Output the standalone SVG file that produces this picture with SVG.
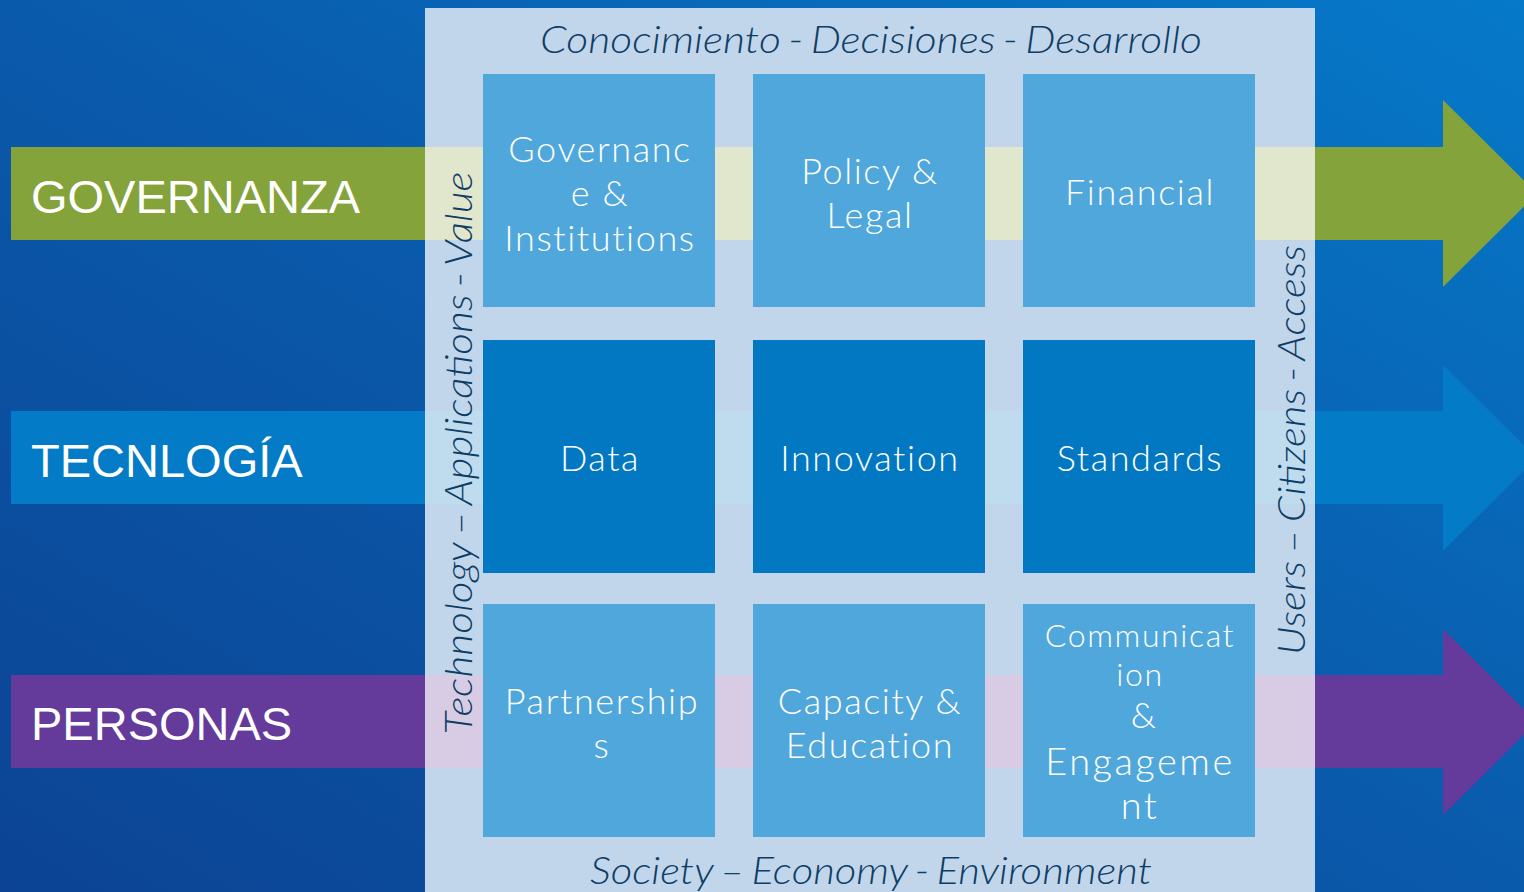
<svg xmlns="http://www.w3.org/2000/svg" width="1524" height="892" viewBox="0 0 1524 892">
<defs>
<linearGradient id="bg" x1="0" y1="1" x2="1" y2="0">
<stop offset="0" stop-color="#0c4394"/>
<stop offset="0.5" stop-color="#0a5aab"/>
<stop offset="1" stop-color="#0679c9"/>
</linearGradient>
<style>
.box1{fill:#50a7db}
.box2{fill:#0278c2}
.bt{font-family:Lato,"Open Sans",sans-serif;font-weight:300;font-size:36px;fill:#ffffff;text-anchor:middle;letter-spacing:1.6px}
.lab{font-family:"Liberation Sans",Arial,sans-serif;font-size:47px;fill:#ffffff}
.it{font-family:Lato,"Open Sans",sans-serif;font-style:italic;font-weight:300;font-size:37px;fill:#0e3d66;text-anchor:middle;word-spacing:-3px}
</style>
</defs>
<rect x="0" y="0" width="1524" height="892" fill="url(#bg)"/>
<g id="bands">
<polygon points="11,147 1443,147 1443,100 1537,193.5 1443,287 1443,240 11,240" fill="#84a33a"/>
<polygon points="11,411 1443,411 1443,365 1537,458 1443,551 1443,504 11,504" fill="#037bc6"/>
<polygon points="11,675 1443,675 1443,629 1537,722 1443,815 1443,768 11,768" fill="#643a9a"/>
</g>
<g id="panel">
<rect x="425" y="8" width="890" height="884" fill="#c1d6eb"/>
<rect x="425" y="147" width="890" height="93" fill="#e1e7cd"/>
<rect x="425" y="411" width="890" height="93" fill="#bfdcef"/>
<rect x="425" y="675" width="890" height="93" fill="#d8cce4"/>
</g>
<g id="labels">
<text class="lab" x="31" y="213">GOVERNANZA</text>
<text class="lab" x="31" y="477">TECNLOGÍA</text>
<text class="lab" x="31" y="740">PERSONAS</text>
</g>
<g id="axis-labels">
<text class="it" x="871" y="53" textLength="662" lengthAdjust="spacingAndGlyphs">Conocimiento - Decisiones - Desarrollo</text>
<text class="it" x="871" y="884" textLength="562" lengthAdjust="spacingAndGlyphs">Society – Economy - Environment</text>
<text class="it" transform="translate(472,453) rotate(-90)" x="0" y="0" textLength="563" lengthAdjust="spacingAndGlyphs">Technology – Applications - Value</text>
<text class="it" transform="translate(1305,450) rotate(-90)" x="0" y="0" textLength="410" lengthAdjust="spacingAndGlyphs">Users – Citizens - Access</text>
</g>
<g id="governance">
<rect class="box1" x="483" y="74" width="232" height="233"/>
<text class="bt" x="600" y="162">Governanc</text>
<text class="bt" x="600" y="206">e &amp;</text>
<text class="bt" x="600" y="251">Institutions</text>
</g>
<g id="policy">
<rect class="box1" x="753" y="74" width="232" height="233"/>
<text class="bt" x="870" y="184">Policy &amp;</text>
<text class="bt" x="870" y="228">Legal</text>
</g>
<g id="financial">
<rect class="box1" x="1023" y="74" width="232" height="233"/>
<text class="bt" x="1140" y="205">Financial</text>
</g>
<g id="data">
<rect class="box2" x="483" y="340" width="232" height="233"/>
<text class="bt" x="600" y="471">Data</text>
</g>
<g id="innovation">
<rect class="box2" x="753" y="340" width="232" height="233"/>
<text class="bt" x="870" y="471">Innovation</text>
</g>
<g id="standards">
<rect class="box2" x="1023" y="340" width="232" height="233"/>
<text class="bt" x="1140" y="471">Standards</text>
</g>
<g id="partnerships">
<rect class="box1" x="483" y="604" width="232" height="233"/>
<text class="bt" x="602" y="714">Partnership</text>
<text class="bt" x="602" y="758">s</text>
</g>
<g id="capacity">
<rect class="box1" x="753" y="604" width="232" height="233"/>
<text class="bt" x="870" y="714">Capacity &amp;</text>
<text class="bt" x="870" y="758">Education</text>
</g>
<g id="communication">
<rect class="box1" x="1023" y="604" width="232" height="233"/>
<text class="bt" x="1140" y="647" style="font-size:32px">Communicat</text>
<text class="bt" x="1140" y="686" style="font-size:32px">ion</text>
<text class="bt" x="1144" y="728">&amp;</text>
<text class="bt" x="1140" y="775" style="font-size:38px;letter-spacing:2.5px">Engageme</text>
<text class="bt" x="1140" y="819" style="font-size:38px;letter-spacing:2.5px">nt</text>
</g>
</svg>
